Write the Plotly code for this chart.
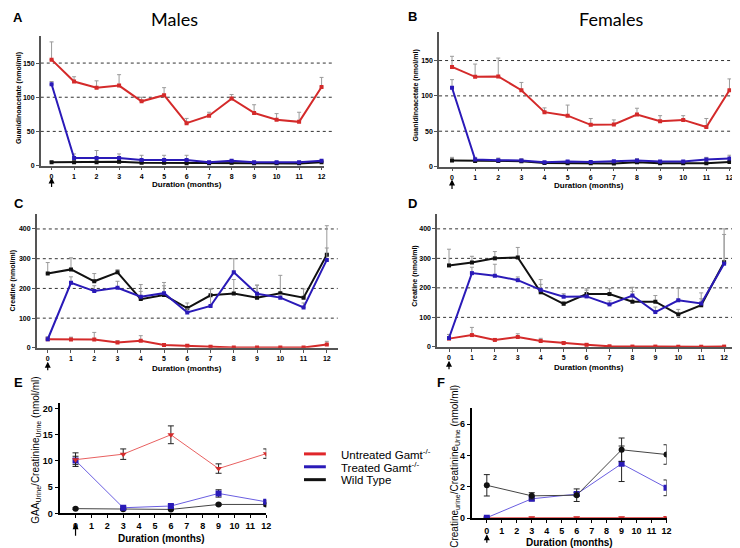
import plotly.graph_objects as go

W, H = 740, 548

months = list(range(13))
months_urine = [0, 3, 6, 9, 12]

# Panel A - Males GAA (nmol/ml)
a_untreated = [155, 123, 114, 117, 94, 103, 62, 73, 98, 77, 67, 64, 115]
a_untreated_err = [26, 7, 10, 16, 6, 11, 7, 5, 6, 12, 9, 14, 14]
a_treated = [119, 11, 11, 11, 8, 8, 8, 5, 7, 5, 5, 5, 7]
a_treated_err = [4, 6, 11, 6, 7, 7, 7, 1, 1, 1, 1, 1, 1]
a_wt = [5, 5, 5, 5.5, 4, 4, 3, 3, 4, 3, 3, 3, 5]
a_wt_err = [1] * 13

# Panel B - Females GAA (nmol/ml)
b_untreated = [141, 127, 127.5, 108, 77, 72, 59, 59.5, 73.5, 64, 66, 56, 108]
b_untreated_err = [15, 18, 26, 11, 6, 15, 9, 6.5, 9, 8, 6, 12, 16]
b_treated = [111.5, 10, 9, 8.5, 6, 7, 6.5, 7.5, 8.5, 7, 7, 10, 11.5]
b_treated_err = [11.5, 3, 3, 2.5, 1, 1, 1, 1, 2.5, 1, 1, 3, 4.5]
b_wt = [8.5, 8, 8, 7.5, 5, 4.7, 4.7, 4.2, 6, 4.7, 4.7, 4.7, 6.5]
b_wt_err = [4.5, 1, 1, 1, 1, 1, 1, 1, 1, 1, 1, 1, 1]

# Panel C - Males creatine (nmol/ml)
c_wt = [250, 264, 224, 254, 164, 178, 134, 177, 183, 169, 184, 169, 313]
c_wt_err = [37, 39, 26, 9, 49, 42, 17, 21, 47, 42, 60, 29, 98]
c_treated = [29, 219, 191, 202, 172, 184, 119, 141, 254, 182, 169, 136, 296]
c_treated_err = [8, 20, 18, 22, 18, 25, 12, 57, 46, 29, 10, 15, 40]
c_untreated = [29, 28, 28, 18, 24, 10, 7, 4, 1, 1, 1, 1, 11]
c_untreated_err = [8, 8, 24, 6, 17, 3, 4, 2, 0.5, 0.5, 0.5, 0.5, 11]

# Panel D - Females creatine (nmol/ml)
d_wt = [276, 286, 300, 303, 185, 146, 179, 179, 153, 153, 110, 141, 287]
d_wt_err = [55, 21, 23, 34, 27, 8, 18, 18, 35, 21, 17, 22, 113]
d_treated = [30, 250, 241, 226, 193, 170, 171, 144, 174, 118, 158, 147, 282]
d_treated_err = [12, 20, 39, 11, 35, 10, 21, 12, 28, 17, 41, 36, 99]
d_untreated = [28, 40, 23.5, 33.5, 20, 13, 7, 2, 1, 1, 0.5, 0.5, 1]
d_untreated_err = [14, 26, 4, 11, 9, 5, 3, 1, 0.5, 0.5, 0.5, 0.5, 0.5]

# Panel E - GAA urine / creatinine urine
e_untreated = [10.25, 11.3, 15.0, 8.55, 11.4]
e_untreated_err = [1.3, 1.0, 1.7, 0.9, 0.9]
e_treated = [10.1, 1.07, 1.4, 3.8, 2.2]
e_treated_err = [0.8, 0.2, 0.3, 0.7, 0.3]
e_wt = [0.9, 0.8, 0.75, 1.7, 1.7]
e_wt_err = [0.15, 0.15, 0.15, 0.2, 0.3]

# Panel F - Creatine urine / creatinine urine
f_wt = [2.1, 1.43, 1.47, 4.36, 4.06]
f_wt_err = [0.68, 0.2, 0.4, 0.75, 0.62]
f_treated = [0.04, 1.24, 1.54, 3.47, 1.94]
f_treated_err = [0.03, 0.12, 0.1, 1.13, 0.5]
f_untreated = [0.04, 0.04, 0.04, 0.04, 0.05]
f_untreated_err = [0.02] * 5

group_names = ["Untreated Gamt<sup>-/-</sup>", "Treated Gamt<sup>-/-</sup>", "Wild Type"]

RED = "#d42a2a"
BLUE = "#2a1ab8"
BLACK = "#111111"
RED_L = "#e86060"
BLUE_L = "#6a5ee0"
BLACK_L = "#444444"
LEGEND_COLORS = ["#e0262a", "#2a1ab8", "#111111"]

FONT = "Liberation Sans, Arial, sans-serif"

fig = go.Figure()


def px_x(p):
    return p / W


def px_y(p):
    return 1 - p / H


def add_serum(xa, ya, series):
    for vals, errs, color in series:
        fig.add_trace(go.Scatter(
            x=months, y=vals, mode="lines+markers",
            xaxis=xa, yaxis=ya, showlegend=False,
            line=dict(color=color, width=2),
            marker=dict(color=color, size=4, symbol="square"),
            error_y=dict(type="data", array=errs, arrayminus=[0] * len(errs),
                         symmetric=False, color="#9a9a9a", thickness=1, width=2),
        ))


def add_urine(xa, ya, series):
    for vals, errs, color, lcolor, sym in series:
        fig.add_trace(go.Scatter(
            x=months_urine, y=vals, mode="lines+markers",
            xaxis=xa, yaxis=ya, showlegend=False,
            line=dict(color=lcolor, width=1),
            marker=dict(color=color, size=6, symbol=sym),
            error_y=dict(type="data", array=errs, color="#222222", thickness=1, width=3),
        ))


add_serum("x", "y", [(a_wt, a_wt_err, BLACK), (a_treated, a_treated_err, BLUE),
                     (a_untreated, a_untreated_err, RED)])
add_serum("x2", "y2", [(b_wt, b_wt_err, BLACK), (b_treated, b_treated_err, BLUE),
                       (b_untreated, b_untreated_err, RED)])
add_serum("x3", "y3", [(c_untreated, c_untreated_err, RED), (c_wt, c_wt_err, BLACK),
                       (c_treated, c_treated_err, BLUE)])
add_serum("x4", "y4", [(d_untreated, d_untreated_err, RED), (d_wt, d_wt_err, BLACK),
                       (d_treated, d_treated_err, BLUE)])
add_urine("x5", "y5", [(e_wt, e_wt_err, BLACK, BLACK_L, "circle"),
                       (e_treated, e_treated_err, BLUE, BLUE_L, "square"),
                       (e_untreated, e_untreated_err, RED, RED_L, "triangle-down")])
add_urine("x6", "y6", [(f_untreated, f_untreated_err, RED, RED_L, "triangle-down"),
                       (f_treated, f_treated_err, BLUE, BLUE_L, "square"),
                       (f_wt, f_wt_err, BLACK, BLACK_L, "circle")])

panels = [
    dict(i=1, xl=33, xr=318, xrng=[-0.48, 12.1], yb=159, yt=28, yrng=[0, 190], yt_vals=[0, 50, 100, 150],
         grid=[50, 100, 150], gx1=1.035, serum=True),
    dict(i=2, xl=434, xr=728, xrng=[-0.56, 12.07], yb=160, yt=24.5, yrng=[0, 190], yt_vals=[0, 50, 100, 150],
         grid=[50, 100, 150], gx1=1.03, serum=True),
    dict(i=3, xl=29, xr=332, xrng=[-0.47, 12.47], yb=343, yt=208, yrng=[0, 450], yt_vals=[0, 100, 200, 300, 400],
         grid=[100, 200, 300, 400], gx1=1.0, serum=True),
    dict(i=4, xl=432, xr=733, xrng=[-0.52, 12.52], yb=342, yt=208, yrng=[0, 450], yt_vals=[0, 100, 200, 300, 400],
         grid=[100, 200, 300, 400], gx1=1.0, serum=True),
    dict(i=5, xl=52, xr=260, xrng=[-1, 12], yb=510, yt=399, yrng=[0, 21], yt_vals=[0, 5, 10, 15, 20],
         grid=[], gx1=1.0, serum=False),
    dict(i=6, xl=467, xr=663, xrng=[-1, 12], yb=515, yt=404, yrng=[0, 7], yt_vals=[0, 2, 4, 6],
         grid=[], gx1=1.0, serum=False),
]

layout_axes = {}
shapes = []
for p in panels:
    i = p["i"]
    sfx = "" if i == 1 else str(i)
    tick_size = 7 if p["serum"] else 9
    axcol = "#555555" if p["serum"] else "#000000"
    lw = 1.5 if p["serum"] else 2
    layout_axes["xaxis" + sfx] = dict(
        domain=[px_x(p["xl"]), px_x(p["xr"])], range=p["xrng"], anchor="y" + sfx,
        tickmode="array", tickvals=months, ticktext=[f"<b>{m}</b>" for m in months],
        ticks="outside", ticklen=3, tickwidth=1, tickcolor=axcol,
        showline=True, linecolor=axcol, linewidth=lw, showgrid=False, zeroline=False,
        tickfont=dict(size=tick_size, color="#000", family=FONT), fixedrange=True,
    )
    layout_axes["yaxis" + sfx] = dict(
        domain=[px_y(p["yb"]), px_y(p["yt"])], range=p["yrng"], anchor="x" + sfx,
        tickmode="array", tickvals=p["yt_vals"], ticktext=[f"<b>{v}</b>" for v in p["yt_vals"]],
        ticks="outside", ticklen=3, tickwidth=1, tickcolor=axcol,
        showline=True, linecolor=axcol, linewidth=lw, showgrid=False, zeroline=False,
        tickfont=dict(size=tick_size, color="#000", family=FONT), fixedrange=True,
    )
    for g in p["grid"]:
        shapes.append(dict(type="line", xref=f"x{sfx} domain", yref="y" + sfx,
                           x0=0, x1=p["gx1"], y0=g, y1=g, layer="below",
                           line=dict(color="#333333", width=1, dash="dot")))

annotations = []


def text(x, y, s, size, bold=False, angle=0, family=FONT, xanchor="center", yanchor="middle"):
    annotations.append(dict(
        x=px_x(x), y=px_y(y), xref="paper", yref="paper", showarrow=False,
        text=f"<b>{s}</b>" if bold else s, textangle=angle, xanchor=xanchor, yanchor=yanchor,
        font=dict(size=size, family=family, color="#000")))


# panel letters
text(3, 10, "A", 13, bold=True, xanchor="left")
text(401, 9, "B", 13, bold=True, xanchor="left")
text(4, 197, "C", 13, bold=True, xanchor="left")
text(401, 197, "D", 13, bold=True, xanchor="left")
text(4, 378, "E", 13, bold=True, xanchor="left")
text(430, 378, "F", 13, bold=True, xanchor="left")

# titles
text(168, 11, "Males", 18, family="Lato, Open Sans, sans-serif")
text(607, 11, "Females", 18, family="Lato, Open Sans, sans-serif")

# y titles
text(11, 91, "Guanidinoacetate (nmol/ml)", 7, bold=True, angle=-90)
text(411, 88, "Guanidinoacetate (nmol/ml)", 7, bold=True, angle=-90)
text(6, 275, "Creatine (nmol/ml)", 7, bold=True, angle=-90)
text(409, 271, "Creatine (nmol/ml)", 7, bold=True, angle=-90)
text(28, 446, "GAA<sub>Urine</sub>/Creatinine<sub>Urine</sub> (nmol/ml)", 10, angle=-90)
text(450, 462, "Creatine<sub>urine</sub>/Creatinine<sub>Urine</sub> (nmol/ml)", 10, angle=-90)

# x titles
text(180, 178, "Duration (months)", 8, bold=True)
text(585, 179.5, "Duration (months)", 8, bold=True)
text(180, 363.5, "Duration (months)", 8, bold=True)
text(585, 363, "Duration (months)", 8, bold=True)
text(155, 535, "Duration (months)", 10, bold=True)
text(565, 539.5, "Duration (months)", 10, bold=True)

# legend (drawn manually to match the compact spacing)
for k, (name, color) in enumerate(zip(group_names, LEGEND_COLORS)):
    yy = 450 + 13 * k
    shapes.append(dict(type="line", xref="paper", yref="paper",
                       x0=px_x(298), x1=px_x(320), y0=px_y(yy), y1=px_y(yy),
                       line=dict(color=color, width=3)))
    text(333, yy, name, 11.5, xanchor="left")

# arrows under month 0
for sfx, ytip, tail in [("", 171, 11), ("2", 173, 11), ("3", 357, 10), ("4", 356, 10),
                        ("5", 520, 14), ("6", 531, 10)]:
    annotations.append(dict(
        x=0, y=px_y(ytip), xref="x" + sfx, yref="paper", text="", showarrow=True,
        ax=0, ay=tail, arrowhead=2, arrowsize=1, standoff=0,
        arrowwidth=1.2, arrowcolor="#000"))

fig.update_layout(
    width=W, height=H, margin=dict(l=0, r=0, t=0, b=0),
    paper_bgcolor="white", plot_bgcolor="white",
    showlegend=False,
    shapes=shapes, annotations=annotations,
    **layout_axes,
)

fig.write_html("out.html")
